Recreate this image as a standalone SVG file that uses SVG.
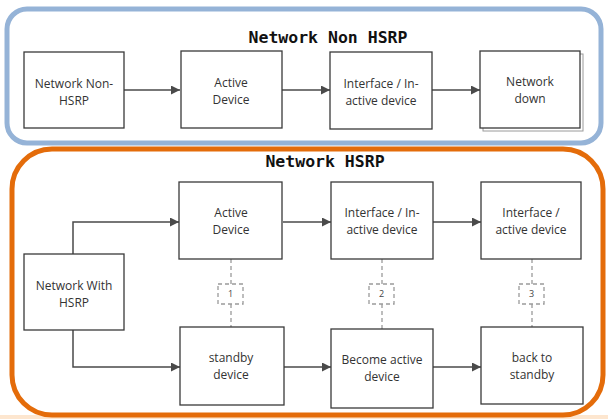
<svg xmlns="http://www.w3.org/2000/svg" width="608" height="419" viewBox="0 0 608 419">
<defs>
<style>
.box{fill:#fff;stroke:#3a3a3a;stroke-width:1.3}
.shadow{fill:#fff;stroke:#9a9a9a;stroke-width:1}
.lbl{font-family:"Open Sans","Noto Sans","Liberation Sans",sans-serif;font-size:12px;fill:#333;text-anchor:middle}
.title{font-family:"DejaVu Sans Mono","Liberation Mono",monospace;font-size:16.5px;font-weight:bold;fill:#111;text-anchor:middle}
.conn{fill:none;stroke:#4a4a4a;stroke-width:1.5}
.dash{fill:none;stroke:#9a9a9a;stroke-width:1.3;stroke-dasharray:4 3}
.num{font-family:"Open Sans","Noto Sans","Liberation Sans",sans-serif;font-size:9px;fill:#444;text-anchor:middle}
</style>
<marker id="arr" viewBox="0 0 10 10" refX="10" refY="5" markerWidth="6" markerHeight="6" orient="auto" markerUnits="strokeWidth">
<path d="M0,0 L10,5 L0,10 z" fill="#4a4a4a"/>
</marker>
</defs>
<rect x="0" y="0" width="608" height="419" fill="#fff"/>
<rect x="0" y="415" width="608" height="4" fill="#fde6cf"/>

<g id="panel-non-hsrp">
<rect x="7" y="9" width="594" height="134" rx="20" fill="#fff" stroke="#95b3d7" stroke-width="5"/>
<text class="title" x="328" y="43">Network Non HSRP</text>
</g>
<g id="panel-hsrp">
<rect x="12" y="149" width="591" height="266" rx="40" fill="#fff" stroke="#e46c0a" stroke-width="5"/>
<text class="title" x="325" y="167">Network HSRP</text>
</g>

<g id="connectors">
<path class="conn" d="M124,90 H180" marker-end="url(#arr)"/>
<path class="conn" d="M282,90 H330" marker-end="url(#arr)"/>
<path class="conn" d="M432,90 H480" marker-end="url(#arr)"/>
<path class="conn" d="M73,254 V222 H179" marker-end="url(#arr)"/>
<path class="conn" d="M73,330 V367 H180" marker-end="url(#arr)"/>
<path class="conn" d="M283,222 H331" marker-end="url(#arr)"/>
<path class="conn" d="M433,222 H481" marker-end="url(#arr)"/>
<path class="conn" d="M284,367 H331" marker-end="url(#arr)"/>
<path class="conn" d="M433,367 H481" marker-end="url(#arr)"/>
<path class="dash" d="M231,259 V284 M231,304 V327"/>
<path class="dash" d="M382,259 V284 M382,304 V329"/>
<path class="dash" d="M532,259 V284 M532,304 V327"/>
</g>

<g id="n1"><rect class="box" x="24" y="52" width="100" height="76"/><text class="lbl" x="74" y="88">Network Non-</text><text class="lbl" x="74" y="105">HSRP</text></g>
<g id="n2"><rect class="box" x="181" y="51" width="101" height="77"/><text class="lbl" x="231" y="87">Active</text><text class="lbl" x="231" y="104">Device</text></g>
<g id="n3"><rect class="box" x="330" y="52" width="102" height="77"/><text class="lbl" x="381" y="88">Interface / In-</text><text class="lbl" x="381" y="105">active device</text></g>
<g id="n4"><rect class="shadow" x="483" y="54" width="100" height="77"/><rect class="box" x="480" y="51" width="100" height="77"/><text class="lbl" x="530" y="86">Network</text><text class="lbl" x="530" y="103">down</text></g>

<g id="h0"><rect class="box" x="24" y="254" width="100" height="76"/><text class="lbl" x="74" y="290">Network With</text><text class="lbl" x="74" y="307">HSRP</text></g>
<g id="h1"><rect class="box" x="179" y="182" width="103" height="77"/><text class="lbl" x="231" y="217">Active</text><text class="lbl" x="231" y="234">Device</text></g>
<g id="h2"><rect class="box" x="331" y="182" width="102" height="77"/><text class="lbl" x="382" y="217">Interface / In-</text><text class="lbl" x="382" y="234">active device</text></g>
<g id="h3"><rect class="box" x="481" y="182" width="100" height="77"/><text class="lbl" x="531" y="217">Interface /</text><text class="lbl" x="531" y="234">active device</text></g>
<g id="s1"><rect class="box" x="180" y="327" width="104" height="78"/><text class="lbl" x="231" y="362">standby</text><text class="lbl" x="231" y="379">device</text></g>
<g id="s2"><rect class="box" x="331" y="329" width="102" height="79"/><text class="lbl" x="382" y="364">Become active</text><text class="lbl" x="382" y="381">device</text></g>
<g id="s3"><rect class="box" x="481" y="327" width="102" height="77"/><text class="lbl" x="532" y="362">back to</text><text class="lbl" x="532" y="379">standby</text></g>

<g id="tag1"><rect class="dash" x="218" y="284" width="25" height="20" fill="#fff"/><text class="num" x="230.5" y="297">1</text></g>
<g id="tag2"><rect class="dash" x="369" y="284" width="25" height="20" fill="#fff"/><text class="num" x="381.5" y="297">2</text></g>
<g id="tag3"><rect class="dash" x="519" y="284" width="25" height="20" fill="#fff"/><text class="num" x="531.5" y="297">3</text></g>
</svg>
